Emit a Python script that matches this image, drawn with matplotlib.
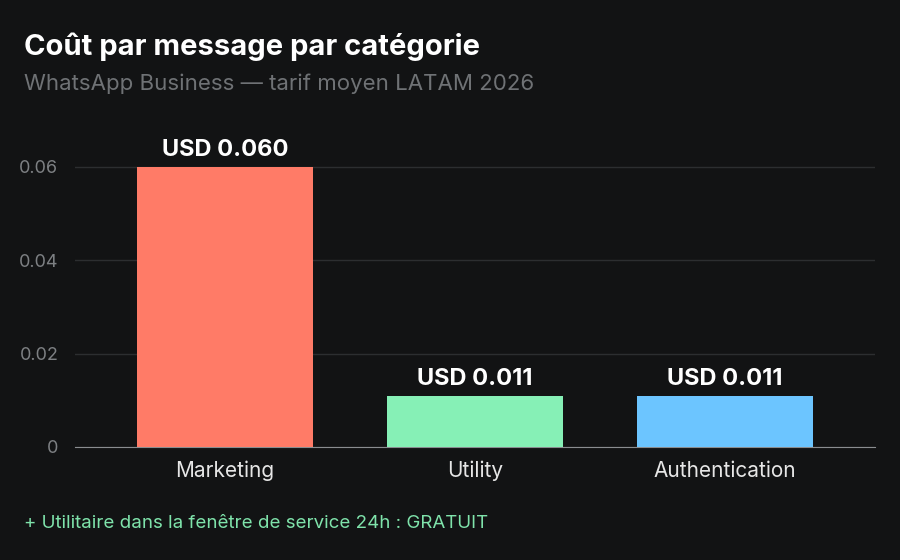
import matplotlib
matplotlib.use("Agg")
import matplotlib.pyplot as plt

categories = ["Marketing", "Utility", "Authentication"]
values = [0.060, 0.011, 0.011]
labels = ["USD 0.060", "USD 0.011", "USD 0.011"]
colors = ["#FF7B67", "#86F0B6", "#6CC5FF"]
yticks = [0, 0.02, 0.04, 0.06]
ytick_labels = ["0", "0.02", "0.04", "0.06"]

plt.rcParams['font.family'] = ['Inter', 'DejaVu Sans']
bg = "#121314"
fig = plt.figure(figsize=(9, 5.6), dpi=100, facecolor=bg)
ax = fig.add_axes([0.0833, 0.2018, 0.8887, 0.55])
ax.set_facecolor(bg)
x = list(range(len(categories)))
ax.bar(x, values, width=0.704, color=colors, zorder=3)
for xi, v, l in zip(x, values, labels):
    ax.text(xi, v + 0.0012, l, ha="center", va="bottom", color="white",
            fontsize=17, fontweight="bold", zorder=4)
ax.set_xlim(-0.6, 2.6)
ax.set_ylim(0, 0.066)
ax.set_yticks(yticks)
ax.set_yticklabels(ytick_labels)
ax.set_xticks(x)
ax.set_xticklabels(categories)
ax.grid(axis="y", color="#2c2e30", linewidth=1, zorder=0)
for s in ["top", "right", "left"]:
    ax.spines[s].set_visible(False)
ax.spines["bottom"].set_color("#8a8d90")
ax.tick_params(axis="y", length=0, colors="#7d8083", labelsize=13, pad=12)
ax.tick_params(axis="x", length=0, colors="#e6e6e6", labelsize=15, pad=10)

fig.text(0.027, 0.902, "Coût par message par catégorie", color="white",
         fontsize=21, fontweight="bold", va="baseline")
fig.text(0.027, 0.84, "WhatsApp Business — tarif moyen LATAM 2026", color="#6f7275",
         fontsize=16, va="baseline")
fig.text(0.027, 0.057, "+ Utilitaire dans la fenêtre de service 24h : GRATUIT",
         color="#7fe3ab", fontsize=13.5, va="baseline")
fig.savefig("out.png", facecolor=bg)
